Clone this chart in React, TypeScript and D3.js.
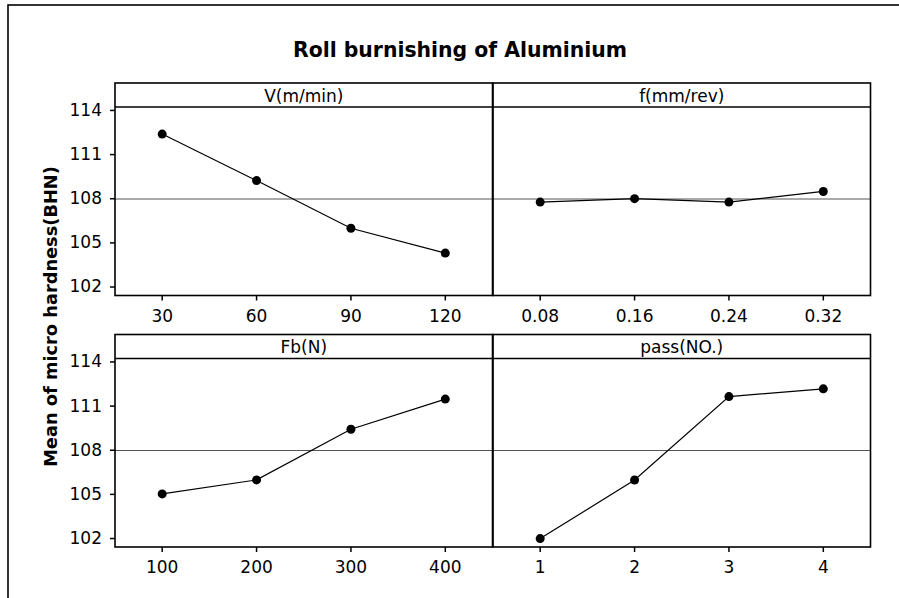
import React, { useRef, useEffect } from "react";
import * as d3 from "d3";

// main effects for means, one array per factor
const factorNames = ["V(m/min)", "f(mm/rev)", "Fb(N)", "pass(NO.)"];
const vLevels = ["30", "60", "90", "120"];
const fLevels = ["0.08", "0.16", "0.24", "0.32"];
const fbLevels = ["100", "200", "300", "400"];
const passLevels = ["1", "2", "3", "4"];
const vMeans = [112.36, 109.2, 105.96, 104.27];
const fMeans = [107.74, 107.97, 107.74, 108.46];
const fbMeans = [105.0, 105.95, 109.39, 111.44];
const passMeans = [101.96, 105.94, 111.61, 112.14];
const yTicks = [102, 105, 108, 111, 114];

const App = () => {
  const ref = useRef<SVGSVGElement>(null);

  useEffect(() => {
    const svg = d3.select(ref.current);
    svg.selectAll("*").remove();

    const font = "'DejaVu Sans', Verdana, sans-serif";
    const colLeft = [115, 493];
    const panelW = 377.5;
    const rowTop = [83, 334.5];
    const headH = 24;
    const plotH = 188.5;

    const panels = [
      { name: factorNames[0], levels: vLevels, means: vMeans, col: 0, row: 0 },
      { name: factorNames[1], levels: fLevels, means: fMeans, col: 1, row: 0 },
      { name: factorNames[2], levels: fbLevels, means: fbMeans, col: 0, row: 1 },
      { name: factorNames[3], levels: passLevels, means: passMeans, col: 1, row: 1 },
    ];

    const grandMean = d3.mean(vMeans) as number;

    // outer frame (runs off the right and bottom of the picture)
    svg
      .append("rect")
      .attr("x", 8)
      .attr("y", 5)
      .attr("width", 920)
      .attr("height", 620)
      .attr("fill", "none")
      .attr("stroke", "#000")
      .attr("stroke-width", 1.6);

    svg
      .append("text")
      .attr("x", 460)
      .attr("y", 56.5)
      .attr("text-anchor", "middle")
      .style("font-family", font)
      .style("font-weight", "bold")
      .style("font-size", "20.4px")
      .text("Roll burnishing of Aluminium");

    svg
      .append("text")
      .attr("transform", "translate(56.5,316.5) rotate(-90)")
      .attr("text-anchor", "middle")
      .style("font-family", font)
      .style("font-weight", "bold")
      .style("font-size", "17.8px")
      .text("Mean of micro hardness(BHN)");

    panels.forEach((p) => {
      const x0 = colLeft[p.col];
      const top = rowTop[p.row];
      const plotTop = top + headH;
      const plotBottom = plotTop + plotH;

      const x = d3
        .scaleBand()
        .domain(p.levels)
        .range([x0, x0 + panelW]);
      const y = d3
        .scaleLinear()
        .domain([101.39, 114.2])
        .range([plotBottom, plotTop]);

      const g = svg.append("g");

      // reference line at grand mean
      g.append("line")
        .attr("x1", x0)
        .attr("x2", x0 + panelW)
        .attr("y1", y(grandMean))
        .attr("y2", y(grandMean))
        .attr("stroke", "#555")
        .attr("stroke-width", 1);

      // header strip + panel box
      g.append("rect")
        .attr("x", x0)
        .attr("y", top)
        .attr("width", panelW)
        .attr("height", headH + plotH)
        .attr("fill", "none")
        .attr("stroke", "#000")
        .attr("stroke-width", 1.6);
      g.append("line")
        .attr("x1", x0)
        .attr("x2", x0 + panelW)
        .attr("y1", plotTop)
        .attr("y2", plotTop)
        .attr("stroke", "#000")
        .attr("stroke-width", 1.6);
      g.append("text")
        .attr("x", x0 + panelW / 2)
        .attr("y", top + 18.5)
        .attr("text-anchor", "middle")
        .style("font-family", font)
        .style("font-size", "17px")
        .text(p.name);

      // x axis
      const xAxis = g
        .append("g")
        .attr("transform", `translate(0,${plotBottom})`)
        .call(d3.axisBottom(x).tickSize(5).tickPadding(9).tickSizeOuter(0));
      xAxis.select(".domain").remove();
      xAxis.selectAll("line").attr("stroke", "#000").attr("stroke-width", 1.5);
      xAxis
        .selectAll("text")
        .attr("fill", "#000")
        .style("font-family", font)
        .style("font-size", "17px");

      // y axis only on left column
      if (p.col === 0) {
        const yAxis = g
          .append("g")
          .attr("transform", `translate(${x0},0)`)
          .call(d3.axisLeft(y).tickValues(yTicks).tickSize(5).tickPadding(8));
        yAxis.select(".domain").remove();
        yAxis.selectAll("line").attr("stroke", "#000").attr("stroke-width", 1.5);
        yAxis
          .selectAll("text")
          .attr("fill", "#000")
          .style("font-family", font)
          .style("font-size", "17px");
      }

      const pts = p.levels.map((l, i) => [
        (x(l) as number) + x.bandwidth() / 2,
        y(p.means[i]),
      ]) as [number, number][];

      g.append("path")
        .attr("d", d3.line()(pts))
        .attr("fill", "none")
        .attr("stroke", "#000")
        .attr("stroke-width", 1.2);

      g.selectAll("circle.pt")
        .data(pts)
        .enter()
        .append("circle")
        .attr("class", "pt")
        .attr("cx", (d) => d[0])
        .attr("cy", (d) => d[1])
        .attr("r", 4.5)
        .attr("fill", "#000");
    });
  }, []);

  return (
    <svg
      ref={ref}
      width={899}
      height={598}
      style={{ position: "absolute", left: 0, top: 0, background: "#fff" }}
    />
  );
};

export default App;
